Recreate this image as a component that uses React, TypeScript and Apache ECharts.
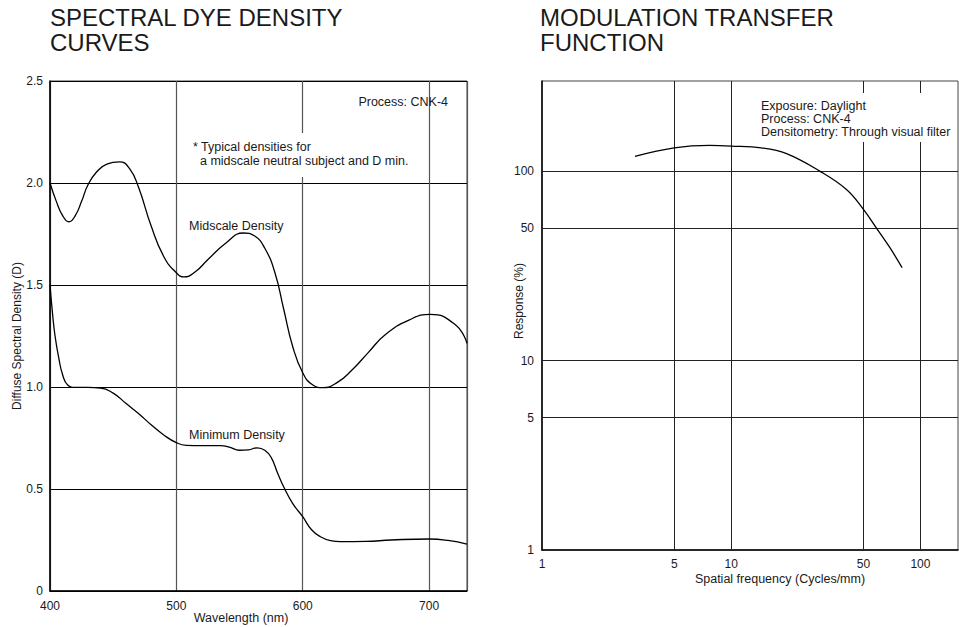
import React, { useEffect, useRef } from "react";
import * as echarts from "echarts";

// ---------- Left chart: spectral dye density ----------
const wavelengthTicks = [400, 500, 600, 700];
const densityTicks = [0, 0.5, 1.0, 1.5, 2.0, 2.5];

const midscaleWavelength = [400, 405, 410, 415, 420, 425, 430, 437, 445, 455, 463, 470, 480, 490, 500, 506, 515, 525, 540, 553, 562, 570, 578, 585, 592, 600, 608, 616, 628, 639, 652, 665, 684, 701, 721, 730];
const midscaleDensity = [2.0, 1.91, 1.84, 1.81, 1.84, 1.91, 1.99, 2.055, 2.093, 2.104, 2.07, 1.98, 1.79, 1.64, 1.56, 1.54, 1.565, 1.625, 1.71, 1.755, 1.74, 1.68, 1.56, 1.38, 1.2, 1.07, 1.01, 0.997, 1.025, 1.083, 1.17, 1.255, 1.328, 1.356, 1.304, 1.214];

const minimumWavelength = [400, 402, 404, 407, 410, 414, 420, 430, 440, 450, 460, 470, 480, 490, 500, 508, 520, 535, 542, 550, 557, 564, 570, 575, 580, 585, 592, 600, 607, 614, 622, 630, 650, 670, 700, 715, 730];
const minimumDensity = [1.5, 1.36, 1.25, 1.14, 1.06, 1.01, 0.998, 0.998, 0.995, 0.97, 0.92, 0.87, 0.815, 0.765, 0.727, 0.714, 0.713, 0.713, 0.705, 0.69, 0.692, 0.702, 0.69, 0.655, 0.58, 0.51, 0.43, 0.364, 0.3, 0.266, 0.247, 0.242, 0.243, 0.25, 0.255, 0.248, 0.23];

// ---------- Right chart: modulation transfer function ----------
const frequencyTicks = [1, 5, 10, 50, 100];
const responseTicks = [1, 5, 10, 50, 100];

const mtfFrequency = [3.1, 5, 7.7, 10, 14.4, 19.6, 29.5, 40.8, 50, 58.7, 69, 80];
const mtfResponse = [120, 133, 137, 136, 133, 124, 100, 80, 63, 50, 39.5, 31];

const FONT = '"Liberation Sans", Arial, Helvetica, sans-serif';
const INK = "#1a1a1a";

const zip = (a: number[], b: number[]) => a.map((v, i) => [v, b[i]]);

function buildOption(): any {
  const hidden = { lineStyle: { color: "rgba(0,0,0,0)" } };
  const gridLineItems: any[] = [];
  frequencyTicks.forEach((v) => gridLineItems.push(v === 1 ? { xAxis: v, ...hidden } : { xAxis: v }));
  responseTicks.forEach((v) => gridLineItems.push(v === 1 ? { yAxis: v, ...hidden } : { yAxis: v }));

  const txt = (text: string, x: number, y: number, size = 12, extra: any = {}) => ({
    type: "text",
    x,
    y,
    z: 20,
    silent: true,
    style: {
      text,
      fill: INK,
      font: `${size}px ${FONT}`,
      align: "left",
      verticalAlign: "middle",
      ...extra,
    },
  });

  const titleStyle = { fontSize: 24, fontWeight: "normal", color: INK, fontFamily: FONT, lineHeight: 23 };

  return {
    animation: false,
    backgroundColor: "#ffffff",
    textStyle: { fontFamily: FONT },
    title: [
      { text: "SPECTRAL DYE DENSITY", left: 50, top: 6, padding: 0, textStyle: titleStyle },
      { text: "CURVES", left: 50, top: 30.5, padding: 0, textStyle: titleStyle },
      { text: "MODULATION TRANSFER", left: 540, top: 6, padding: 0, textStyle: titleStyle },
      { text: "FUNCTION", left: 540, top: 30.5, padding: 0, textStyle: titleStyle },
    ],
    grid: [
      { left: 50, top: 81, width: 417, height: 510, show: true, borderColor: "#444", borderWidth: 1, backgroundColor: "transparent" },
      { left: 542, top: 81, width: 416, height: 469, show: true, borderColor: "#444", borderWidth: 1, backgroundColor: "transparent" },
    ],
    xAxis: [
      {
        type: "value",
        gridIndex: 0,
        min: wavelengthTicks[0],
        max: 730,
        interval: 100,
        axisLine: { show: true, onZero: false, lineStyle: { color: "#000", width: 1.5 } },
        axisTick: { show: false },
        axisLabel: {
          margin: 9,
          color: INK,
          fontSize: 12,
          fontFamily: FONT,
          showMaxLabel: false,
          formatter: (v: number) => (wavelengthTicks.includes(v) ? String(v) : ""),
        },
        splitLine: { show: true, lineStyle: { color: "#555", width: 1.2 } },
      },
      {
        type: "log",
        gridIndex: 1,
        logBase: 10,
        min: frequencyTicks[0],
        max: 158,
        axisLine: { show: true, onZero: false, lineStyle: { color: "#000", width: 1.5 } },
        axisTick: { show: false },
        axisLabel: { show: false },
        splitLine: { show: false },
      },
    ],
    yAxis: [
      {
        type: "value",
        gridIndex: 0,
        min: densityTicks[0],
        max: densityTicks[densityTicks.length - 1],
        interval: 0.5,
        axisLine: { show: true, onZero: false, lineStyle: { color: "#000", width: 1.5 } },
        axisTick: { show: false },
        axisLabel: {
          margin: 7,
          color: INK,
          fontSize: 12,
          fontFamily: FONT,
          formatter: (v: number) => (v === 0 ? "0" : v.toFixed(1)),
        },
        splitLine: { show: true, lineStyle: { color: "#000", width: 1 } },
      },
      {
        type: "log",
        gridIndex: 1,
        logBase: 10,
        min: responseTicks[0],
        max: 300,
        axisLine: { show: true, onZero: false, lineStyle: { color: "#000", width: 1.5 } },
        axisTick: { show: false },
        axisLabel: { show: false },
        splitLine: { show: false },
      },
    ],
    series: [
      {
        name: "Midscale Density",
        type: "line",
        xAxisIndex: 0,
        yAxisIndex: 0,
        data: zip(midscaleWavelength, midscaleDensity),
        smooth: 0.5,
        showSymbol: false,
        symbol: "none",
        silent: true,
        lineStyle: { color: "#000", width: 1.3 },
        z: 5,
      },
      {
        name: "Minimum Density",
        type: "line",
        xAxisIndex: 0,
        yAxisIndex: 0,
        data: zip(minimumWavelength, minimumDensity),
        smooth: 0.5,
        showSymbol: false,
        symbol: "none",
        silent: true,
        lineStyle: { color: "#000", width: 1.3 },
        z: 5,
      },
      {
        name: "Response",
        type: "line",
        xAxisIndex: 1,
        yAxisIndex: 1,
        data: zip(mtfFrequency, mtfResponse),
        smooth: 0.4,
        showSymbol: false,
        symbol: "none",
        silent: true,
        lineStyle: { color: "#000", width: 1.3 },
        z: 5,
        markLine: {
          silent: true,
          symbol: ["none", "none"],
          animation: false,
          lineStyle: { color: "#222", width: 1, type: "solid" },
          label: {
            show: true,
            position: "start",
            distance: 8,
            color: INK,
            fontSize: 12,
            fontFamily: FONT,
            formatter: (p: any) => String(p.value),
          },
          emphasis: { disabled: true },
          data: gridLineItems,
        },
      },
    ],
    graphic: [
      // left chart annotations
      txt("Process: CNK-4", 448, 102, 12.5, { align: "right" }),
      { type: "rect", z: 15, silent: true, shape: { x: 190, y: 133, width: 222, height: 44 }, style: { fill: "#fff" } },
      txt("* Typical densities for", 193, 147, 12.5),
      txt("a midscale neutral subject and D min.", 200, 161, 12.5),
      txt("Midscale Density", 189, 226, 12.5),
      txt("Minimum Density", 189, 435, 12.5),
      txt("Wavelength (nm)", 241, 618, 12.5, { align: "center" }),
      { ...txt("Diffuse Spectral Density (D)", 17, 336, 12, { align: "center" }), rotation: Math.PI / 2 },
      // right chart annotations
      { type: "rect", z: 15, silent: true, shape: { x: 757, y: 93, width: 198, height: 49 }, style: { fill: "#fff" } },
      txt("Exposure: Daylight", 761, 106, 12.5),
      txt("Process: CNK-4", 761, 119, 12.5),
      txt("Densitometry: Through visual filter", 761, 132, 12.5),
      txt("Spatial frequency (Cycles/mm)", 780, 579, 12.5, { align: "center" }),
      { ...txt("Response (%)", 519, 301, 12, { align: "center" }), rotation: Math.PI / 2 },
    ],
  };
}

export default function App() {
  const ref = useRef<HTMLDivElement>(null);
  useEffect(() => {
    if (!ref.current) return;
    const chart = echarts.init(ref.current, null, { renderer: "svg" });
    chart.setOption(buildOption());
    return () => chart.dispose();
  }, []);
  return (
    <div
      ref={ref}
      style={{ position: "fixed", left: 0, top: 0, width: 959, height: 627, background: "#fff" }}
    />
  );
}
